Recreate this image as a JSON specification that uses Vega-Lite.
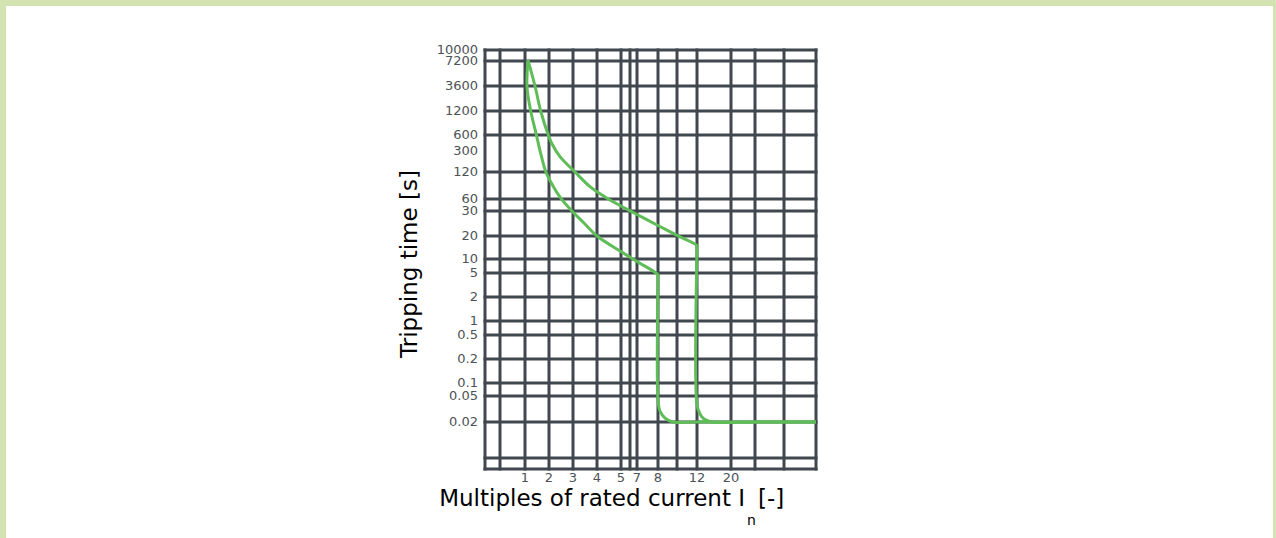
{
  "$schema": "https://vega.github.io/schema/vega-lite/v6.json",
  "autosize": "none",
  "width": 1267,
  "height": 532,
  "padding": {"left": 6, "top": 6, "right": 3, "bottom": 0},
  "background": "#d3e4b2",
  "config": {"view": {"fill": "white", "stroke": null}},
  "title": {"text": "Tripping characteristics", "anchor": "start", "frame": "group", "offset": 0, "dx": 9, "dy": 14, "fontSize": 26, "font": "DejaVu Sans", "fontWeight": "normal", "color": "#000000", "baseline": "alphabetic"},
  "layer": [
    {
      "data": {"values": [{"x": 0.5, "y": 0.005, "y2": 10000}, {"x": 0.7, "y": 0.005, "y2": 10000}, {"x": 1, "y": 0.005, "y2": 10000}, {"x": 2, "y": 0.005, "y2": 10000}, {"x": 3, "y": 0.005, "y2": 10000}, {"x": 4, "y": 0.005, "y2": 10000}, {"x": 5, "y": 0.005, "y2": 10000}, {"x": 6, "y": 0.005, "y2": 10000}, {"x": 7, "y": 0.005, "y2": 10000}, {"x": 8, "y": 0.005, "y2": 10000}, {"x": 10, "y": 0.005, "y2": 10000}, {"x": 12, "y": 0.005, "y2": 10000}, {"x": 20, "y": 0.005, "y2": 10000}, {"x": 30, "y": 0.005, "y2": 10000}, {"x": 50, "y": 0.005, "y2": 10000}, {"x": 100, "y": 0.005, "y2": 10000}]},
      "mark": {"type": "rule", "color": "#41474e", "strokeWidth": 3, "strokeCap": "square"},
      "encoding": {
        "x": {"field": "x", "type": "quantitative", "axis": null, "scale": {"type": "log", "nice": false, "domain": [0.5, 0.7, 1, 2, 3, 4, 5, 6, 7, 8, 10, 12, 20, 30, 50, 100], "range": [479, 494, 519, 543, 567, 591, 615, 624, 631, 652, 671, 691, 725, 749, 778, 810]}},
        "y": {"field": "y", "type": "quantitative", "axis": null, "scale": {"type": "log", "nice": false, "domain": [0.005, 0.01, 0.02, 0.05, 0.1, 0.2, 0.5, 1, 2, 5, 10, 20, 30, 60, 120, 300, 600, 1200, 3600, 7200, 10000], "range": [463, 452, 416, 390, 377, 353, 329, 315, 291, 267, 253, 230, 205, 193, 166, 145, 129, 105, 80, 55, 44]}},
        "y2": {"field": "y2"}
      }
    },
    {
      "data": {"values": [{"y": 0.005, "x": 0.5, "x2": 100}, {"y": 0.01, "x": 0.5, "x2": 100}, {"y": 0.02, "x": 0.5, "x2": 100}, {"y": 0.05, "x": 0.5, "x2": 100}, {"y": 0.1, "x": 0.5, "x2": 100}, {"y": 0.2, "x": 0.5, "x2": 100}, {"y": 0.5, "x": 0.5, "x2": 100}, {"y": 1, "x": 0.5, "x2": 100}, {"y": 2, "x": 0.5, "x2": 100}, {"y": 5, "x": 0.5, "x2": 100}, {"y": 10, "x": 0.5, "x2": 100}, {"y": 20, "x": 0.5, "x2": 100}, {"y": 30, "x": 0.5, "x2": 100}, {"y": 60, "x": 0.5, "x2": 100}, {"y": 120, "x": 0.5, "x2": 100}, {"y": 600, "x": 0.5, "x2": 100}, {"y": 1200, "x": 0.5, "x2": 100}, {"y": 3600, "x": 0.5, "x2": 100}, {"y": 7200, "x": 0.5, "x2": 100}, {"y": 10000, "x": 0.5, "x2": 100}]},
      "mark": {"type": "rule", "color": "#41474e", "strokeWidth": 3, "strokeCap": "square"},
      "encoding": {
        "y": {"field": "y", "type": "quantitative", "axis": null, "scale": {"type": "log", "nice": false, "domain": [0.005, 0.01, 0.02, 0.05, 0.1, 0.2, 0.5, 1, 2, 5, 10, 20, 30, 60, 120, 300, 600, 1200, 3600, 7200, 10000], "range": [463, 452, 416, 390, 377, 353, 329, 315, 291, 267, 253, 230, 205, 193, 166, 145, 129, 105, 80, 55, 44]}},
        "x": {"field": "x", "type": "quantitative", "axis": null, "scale": {"type": "log", "nice": false, "domain": [0.5, 0.7, 1, 2, 3, 4, 5, 6, 7, 8, 10, 12, 20, 30, 50, 100], "range": [479, 494, 519, 543, 567, 591, 615, 624, 631, 652, 671, 691, 725, 749, 778, 810]}},
        "x2": {"field": "x2"}
      }
    },
    {
      "data": {"values": [
        {"curve": "B", "i": 0, "x": 1.09, "y": 7400},
        {"curve": "B", "i": 1, "x": 1.06, "y": 3450},
        {"curve": "B", "i": 2, "x": 1.18, "y": 1200},
        {"curve": "B", "i": 3, "x": 1.39, "y": 600},
        {"curve": "B", "i": 4, "x": 1.59, "y": 252},
        {"curve": "B", "i": 5, "x": 1.83, "y": 120},
        {"curve": "B", "i": 6, "x": 2.14, "y": 84},
        {"curve": "B", "i": 7, "x": 2.41, "y": 63},
        {"curve": "B", "i": 8, "x": 2.9, "y": 31.8},
        {"curve": "B", "i": 9, "x": 3.42, "y": 24.7},
        {"curve": "B", "i": 10, "x": 4, "y": 20},
        {"curve": "B", "i": 11, "x": 5, "y": 12.5},
        {"curve": "B", "i": 12, "x": 7, "y": 8.8},
        {"curve": "B", "i": 13, "x": 8, "y": 4.63},
        {"curve": "B", "i": 14, "x": 8, "y": 4.2},
        {"curve": "B", "i": 15, "x": 8, "y": 0.0434},
        {"curve": "B", "i": 16, "x": 8.19, "y": 0.0295},
        {"curve": "B", "i": 17, "x": 8.69, "y": 0.023},
        {"curve": "B", "i": 18, "x": 9.54, "y": 0.02},
        {"curve": "B", "i": 19, "x": 12, "y": 0.02},
        {"curve": "B", "i": 20, "x": 100, "y": 0.02},
        {"curve": "C", "i": 0, "x": 1.09, "y": 7400},
        {"curve": "C", "i": 1, "x": 1.335, "y": 3600},
        {"curve": "C", "i": 2, "x": 1.574, "y": 1200},
        {"curve": "C", "i": 3, "x": 1.96, "y": 600},
        {"curve": "C", "i": 4, "x": 2.093, "y": 419},
        {"curve": "C", "i": 5, "x": 2.408, "y": 234},
        {"curve": "C", "i": 6, "x": 3.073, "y": 120},
        {"curve": "C", "i": 7, "x": 3.678, "y": 82.3},
        {"curve": "C", "i": 8, "x": 4.31, "y": 63.2},
        {"curve": "C", "i": 9, "x": 5, "y": 40},
        {"curve": "C", "i": 10, "x": 6.45, "y": 29.3},
        {"curve": "C", "i": 11, "x": 8, "y": 23.7},
        {"curve": "C", "i": 12, "x": 10, "y": 20.2},
        {"curve": "C", "i": 13, "x": 12, "y": 15},
        {"curve": "C", "i": 14, "x": 12, "y": 14},
        {"curve": "C", "i": 15, "x": 12, "y": 0.0364},
        {"curve": "C", "i": 16, "x": 12.55, "y": 0.0265},
        {"curve": "C", "i": 17, "x": 13.33, "y": 0.0222},
        {"curve": "C", "i": 18, "x": 15.03, "y": 0.02},
        {"curve": "C", "i": 19, "x": 30, "y": 0.02},
        {"curve": "C", "i": 20, "x": 100, "y": 0.02}
      ]},
      "mark": {"type": "line", "color": "#5fbd58", "strokeWidth": 3, "strokeJoin": "round", "interpolate": "catmull-rom"},
      "encoding": {
        "x": {"field": "x", "type": "quantitative", "axis": null, "scale": {"type": "log", "nice": false, "domain": [0.5, 0.7, 1, 2, 3, 4, 5, 6, 7, 8, 10, 12, 20, 30, 50, 100], "range": [479, 494, 519, 543, 567, 591, 615, 624, 631, 652, 671, 691, 725, 749, 778, 810]}},
        "y": {"field": "y", "type": "quantitative", "axis": null, "scale": {"type": "log", "nice": false, "domain": [0.005, 0.01, 0.02, 0.05, 0.1, 0.2, 0.5, 1, 2, 5, 10, 20, 30, 60, 120, 300, 600, 1200, 3600, 7200, 10000], "range": [463, 452, 416, 390, 377, 353, 329, 315, 291, 267, 253, 230, 205, 193, 166, 145, 129, 105, 80, 55, 44]}},
        "detail": {"field": "curve", "type": "nominal"},
        "order": {"field": "i", "type": "quantitative"}
      }
    },
    {
      "data": {"values": [{"y": 10000, "x": 0.5, "label": "10000"}, {"y": 7200, "x": 0.5, "label": "7200"}, {"y": 3600, "x": 0.5, "label": "3600"}, {"y": 1200, "x": 0.5, "label": "1200"}, {"y": 600, "x": 0.5, "label": "600"}, {"y": 300, "x": 0.5, "label": "300"}, {"y": 120, "x": 0.5, "label": "120"}, {"y": 60, "x": 0.5, "label": "60"}, {"y": 30, "x": 0.5, "label": "30"}, {"y": 20, "x": 0.5, "label": "20"}, {"y": 10, "x": 0.5, "label": "10"}, {"y": 5, "x": 0.5, "label": "5"}, {"y": 2, "x": 0.5, "label": "2"}, {"y": 1, "x": 0.5, "label": "1"}, {"y": 0.5, "x": 0.5, "label": "0.5"}, {"y": 0.2, "x": 0.5, "label": "0.2"}, {"y": 0.1, "x": 0.5, "label": "0.1"}, {"y": 0.05, "x": 0.5, "label": "0.05"}, {"y": 0.02, "x": 0.5, "label": "0.02"}]},
      "mark": {"type": "text", "align": "right", "baseline": "middle", "dx": -7, "font": "DejaVu Sans", "fontSize": 13, "color": "#4d5257"},
      "encoding": {
        "x": {"field": "x", "type": "quantitative", "axis": null, "scale": {"type": "log", "nice": false, "domain": [0.5, 0.7, 1, 2, 3, 4, 5, 6, 7, 8, 10, 12, 20, 30, 50, 100], "range": [479, 494, 519, 543, 567, 591, 615, 624, 631, 652, 671, 691, 725, 749, 778, 810]}},
        "y": {"field": "y", "type": "quantitative", "axis": null, "scale": {"type": "log", "nice": false, "domain": [0.005, 0.01, 0.02, 0.05, 0.1, 0.2, 0.5, 1, 2, 5, 10, 20, 30, 60, 120, 300, 600, 1200, 3600, 7200, 10000], "range": [463, 452, 416, 390, 377, 353, 329, 315, 291, 267, 253, 230, 205, 193, 166, 145, 129, 105, 80, 55, 44]}},
        "text": {"field": "label", "type": "nominal"}
      }
    },
    {
      "data": {"values": [{"x": 1, "y": 0.005, "label": "1"}, {"x": 2, "y": 0.005, "label": "2"}, {"x": 3, "y": 0.005, "label": "3"}, {"x": 4, "y": 0.005, "label": "4"}, {"x": 5, "y": 0.005, "label": "5"}, {"x": 7, "y": 0.005, "label": "7"}, {"x": 8, "y": 0.005, "label": "8"}, {"x": 12, "y": 0.005, "label": "12"}, {"x": 20, "y": 0.005, "label": "20"}]},
      "mark": {"type": "text", "align": "center", "baseline": "middle", "dy": 9, "font": "DejaVu Sans", "fontSize": 13, "color": "#4d5257"},
      "encoding": {
        "x": {"field": "x", "type": "quantitative", "axis": null, "scale": {"type": "log", "nice": false, "domain": [0.5, 0.7, 1, 2, 3, 4, 5, 6, 7, 8, 10, 12, 20, 30, 50, 100], "range": [479, 494, 519, 543, 567, 591, 615, 624, 631, 652, 671, 691, 725, 749, 778, 810]}},
        "y": {"field": "y", "type": "quantitative", "axis": null, "scale": {"type": "log", "nice": false, "domain": [0.005, 0.01, 0.02, 0.05, 0.1, 0.2, 0.5, 1, 2, 5, 10, 20, 30, 60, 120, 300, 600, 1200, 3600, 7200, 10000], "range": [463, 452, 416, 390, 377, 353, 329, 315, 291, 267, 253, 230, 205, 193, 166, 145, 129, 105, 80, 55, 44]}},
        "text": {"field": "label", "type": "nominal"}
      }
    },
    {
      "data": {"values": [{"x": 0.5, "y": 7.8, "t": "Tripping time [s]"}]},
      "mark": {"type": "text", "angle": 270, "align": "center", "baseline": "alphabetic", "dy": -68, "font": "DejaVu Sans", "fontSize": 23, "color": "#000000"},
      "encoding": {
        "x": {"field": "x", "type": "quantitative", "axis": null, "scale": {"type": "log", "nice": false, "domain": [0.5, 0.7, 1, 2, 3, 4, 5, 6, 7, 8, 10, 12, 20, 30, 50, 100], "range": [479, 494, 519, 543, 567, 591, 615, 624, 631, 652, 671, 691, 725, 749, 778, 810]}},
        "y": {"field": "y", "type": "quantitative", "axis": null, "scale": {"type": "log", "nice": false, "domain": [0.005, 0.01, 0.02, 0.05, 0.1, 0.2, 0.5, 1, 2, 5, 10, 20, 30, 60, 120, 300, 600, 1200, 3600, 7200, 10000], "range": [463, 452, 416, 390, 377, 353, 329, 315, 291, 267, 253, 230, 205, 193, 166, 145, 129, 105, 80, 55, 44]}},
        "text": {"field": "t", "type": "nominal"}
      }
    },
    {
      "data": {"values": [{"x": 12, "y": 0.005, "t": "Multiples of rated current I"}]},
      "mark": {"type": "text", "align": "right", "baseline": "alphabetic", "dx": 48, "dy": 37, "font": "DejaVu Sans", "fontSize": 23, "color": "#000000"},
      "encoding": {
        "x": {"field": "x", "type": "quantitative", "axis": null, "scale": {"type": "log", "nice": false, "domain": [0.5, 0.7, 1, 2, 3, 4, 5, 6, 7, 8, 10, 12, 20, 30, 50, 100], "range": [479, 494, 519, 543, 567, 591, 615, 624, 631, 652, 671, 691, 725, 749, 778, 810]}},
        "y": {"field": "y", "type": "quantitative", "axis": null, "scale": {"type": "log", "nice": false, "domain": [0.005, 0.01, 0.02, 0.05, 0.1, 0.2, 0.5, 1, 2, 5, 10, 20, 30, 60, 120, 300, 600, 1200, 3600, 7200, 10000], "range": [463, 452, 416, 390, 377, 353, 329, 315, 291, 267, 253, 230, 205, 193, 166, 145, 129, 105, 80, 55, 44]}},
        "text": {"field": "t", "type": "nominal"}
      }
    },
    {
      "data": {"values": [{"x": 12, "y": 0.005, "t": "n"}]},
      "mark": {"type": "text", "align": "left", "baseline": "alphabetic", "dx": 50, "dy": 56, "font": "DejaVu Sans", "fontSize": 14, "color": "#000000"},
      "encoding": {
        "x": {"field": "x", "type": "quantitative", "axis": null, "scale": {"type": "log", "nice": false, "domain": [0.5, 0.7, 1, 2, 3, 4, 5, 6, 7, 8, 10, 12, 20, 30, 50, 100], "range": [479, 494, 519, 543, 567, 591, 615, 624, 631, 652, 671, 691, 725, 749, 778, 810]}},
        "y": {"field": "y", "type": "quantitative", "axis": null, "scale": {"type": "log", "nice": false, "domain": [0.005, 0.01, 0.02, 0.05, 0.1, 0.2, 0.5, 1, 2, 5, 10, 20, 30, 60, 120, 300, 600, 1200, 3600, 7200, 10000], "range": [463, 452, 416, 390, 377, 353, 329, 315, 291, 267, 253, 230, 205, 193, 166, 145, 129, 105, 80, 55, 44]}},
        "text": {"field": "t", "type": "nominal"}
      }
    },
    {
      "data": {"values": [{"x": 12, "y": 0.005, "t": "[-]"}]},
      "mark": {"type": "text", "align": "left", "baseline": "alphabetic", "dx": 61, "dy": 37, "font": "DejaVu Sans", "fontSize": 23, "color": "#000000"},
      "encoding": {
        "x": {"field": "x", "type": "quantitative", "axis": null, "scale": {"type": "log", "nice": false, "domain": [0.5, 0.7, 1, 2, 3, 4, 5, 6, 7, 8, 10, 12, 20, 30, 50, 100], "range": [479, 494, 519, 543, 567, 591, 615, 624, 631, 652, 671, 691, 725, 749, 778, 810]}},
        "y": {"field": "y", "type": "quantitative", "axis": null, "scale": {"type": "log", "nice": false, "domain": [0.005, 0.01, 0.02, 0.05, 0.1, 0.2, 0.5, 1, 2, 5, 10, 20, 30, 60, 120, 300, 600, 1200, 3600, 7200, 10000], "range": [463, 452, 416, 390, 377, 353, 329, 315, 291, 267, 253, 230, 205, 193, 166, 145, 129, 105, 80, 55, 44]}},
        "text": {"field": "t", "type": "nominal"}
      }
    }
  ]
}
